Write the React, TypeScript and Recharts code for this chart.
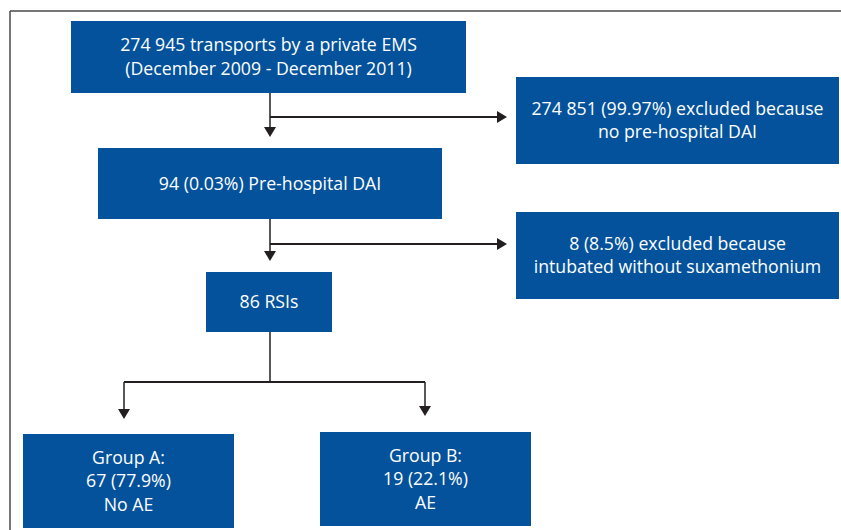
import React from "react";
import {
  ComposedChart,
  XAxis,
  YAxis,
  ReferenceArea,
  ReferenceLine,
  Scatter,
} from "recharts";

// ---- content ----
const boxTexts: string[][] = [
  ["274 945 transports by a private EMS", "(December 2009 - December 2011)"],
  ["274 851 (99.97%) excluded because", "no pre-hospital DAI"],
  ["94 (0.03%) Pre-hospital DAI"],
  ["8 (8.5%) excluded because", "intubated without suxamethonium"],
  ["86 RSIs"],
  ["Group A:", "67 (77.9%)", "No AE"],
  ["Group B:", "19 (22.1%)", "AE"],
];

// ---- layout (diagram coordinates) ----
const boxX1 = [71, 516, 98, 516, 206, 23, 320];
const boxX2 = [466, 839, 442, 839, 332, 234, 531];
const boxY1 = [21, 77, 148, 212, 272, 434, 432];
const boxY2 = [93, 164, 219, 299, 332, 528, 526];

// connector segments [x1, y1, x2, y2, strokeWidth]
const connectors: number[][] = [
  [270, 93, 270, 128, 1.5],
  [270, 117, 497, 117, 2],
  [270, 219, 270, 252, 1.5],
  [270, 244, 497, 244, 2],
  [270, 332, 270, 382, 1.5],
  [124, 382, 425, 382, 2],
  [124, 382, 124, 410, 1.5],
  [425, 382, 425, 407, 1.5],
];

// arrow heads at tips
const arrowTipX = [270, 507, 270, 507, 124, 425];
const arrowTipY = [137, 117, 261, 244, 419, 416];
const arrowDir = ["down", "right", "down", "right", "down", "down"];

// frame
const frame: number[][] = [
  [10, 11, 841, 11],
  [10, 11, 10, 530],
];

const BLUE = "#04529c";
const INK = "#231f20";
const FONT = "'Open Sans', Lato, sans-serif";

const arrows = arrowTipX.map((x, i) => ({ x, y: arrowTipY[i], dir: arrowDir[i] }));

const ArrowHead = (props: any) => {
  const { cx, cy, payload } = props;
  const L = 10;
  const W = 6;
  let pts = "";
  if (payload.dir === "down") {
    pts = `${cx},${cy} ${cx - W},${cy - L} ${cx + W},${cy - L}`;
  } else {
    pts = `${cx},${cy} ${cx - L},${cy - W} ${cx - L},${cy + W}`;
  }
  return <polygon points={pts} fill={INK} />;
};

const makeLabel = (lines: string[]) => (props: any) => {
  const vb = props.viewBox || {};
  const { x = 0, y = 0, width = 0, height = 0 } = vb;
  const cx = x + width / 2;
  const cy = y + height / 2 - 1;
  const lh = 23.5;
  const start = cy - ((lines.length - 1) * lh) / 2;
  return (
    <text
      x={cx}
      y={start}
      textAnchor="middle"
      fill="#ffffff"
      fontFamily={FONT}
      fontSize={17.7}
    >
      {lines.map((l, i) => (
        <tspan key={i} x={cx} y={start + i * lh} dominantBaseline="central">
          {l}
        </tspan>
      ))}
    </text>
  );
};

export default function App() {
  return (
    <div style={{ position: "absolute", left: 0, top: 0, width: 841, height: 530, background: "#fff" }}>
      <ComposedChart
        width={841}
        height={530}
        margin={{ top: 0, right: 0, bottom: 0, left: 0 }}
        data={arrows}
      >
        <XAxis type="number" dataKey="x" domain={[0, 841]} hide allowDataOverflow />
        <YAxis type="number" dataKey="y" domain={[0, 530]} reversed hide allowDataOverflow />
        {frame.map((f, i) => (
          <ReferenceLine
            key={"f" + i}
            segment={[
              { x: f[0], y: f[1] },
              { x: f[2], y: f[3] },
            ]}
            stroke="#4a4a4a"
            strokeWidth={1.5}
            ifOverflow="extendDomain"
          />
        ))}
        {connectors.map((c, i) => (
          <ReferenceLine
            key={"c" + i}
            segment={[
              { x: c[0], y: c[1] },
              { x: c[2], y: c[3] },
            ]}
            stroke={INK}
            strokeWidth={c[4]}
          />
        ))}
        {boxTexts.map((lines, i) => (
          <ReferenceArea
            key={"b" + i}
            x1={boxX1[i]}
            x2={boxX2[i]}
            y1={boxY1[i]}
            y2={boxY2[i]}
            fill={BLUE}
            fillOpacity={1}
            stroke="none"
            label={makeLabel(lines)}
          />
        ))}
        <Scatter
          data={arrows}
          dataKey="y"
          shape={ArrowHead}
          isAnimationActive={false}
        />
      </ComposedChart>
    </div>
  );
}
